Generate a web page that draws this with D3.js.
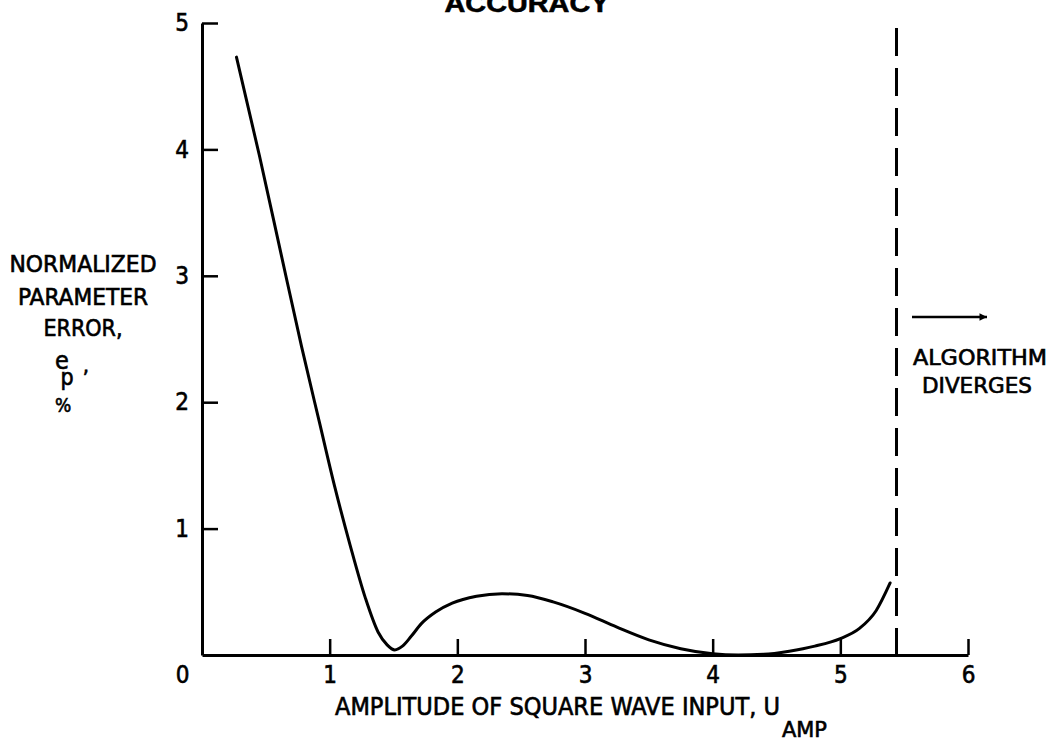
<!DOCTYPE html>
<html>
<head>
<meta charset="utf-8">
<script src="https://cdn.jsdelivr.net/npm/d3@7"></script>
<style>
  html, body { margin: 0; padding: 0; background: #fff; }
  svg { display: block; }
  text { font-family: "DejaVu Sans Condensed", "DejaVu Sans", sans-serif; fill: #000; stroke: #000; stroke-width: 0.6px; }
</style>
</head>
<body>
<svg id="chart" width="1050" height="741"></svg>
<script>
// ---- data ----
const uAmp = [0.27, 0.45, 0.62, 0.78, 0.92, 1.04, 1.16, 1.28, 1.38, 1.45, 1.51, 1.57, 1.64, 1.72, 1.83, 1.96, 2.15, 2.35, 2.55, 2.75, 3.00, 3.25, 3.50, 3.75, 4.00, 4.20, 4.40, 4.60, 4.80, 5.00, 5.15, 5.28, 5.39];
const errP = [4.73, 3.95, 3.17, 2.44, 1.84, 1.33, 0.87, 0.45, 0.18, 0.08, 0.04, 0.07, 0.15, 0.25, 0.34, 0.41, 0.465, 0.485, 0.47, 0.42, 0.33, 0.22, 0.12, 0.05, 0.01, 0.0, 0.005, 0.03, 0.07, 0.13, 0.21, 0.35, 0.57];
const xTicks = [0, 1, 2, 3, 4, 5, 6];
const yTicks = [1, 2, 3, 4, 5];
const divergeAt = [5.44];
const titleText = "ACCURACY";
const xLabel = "AMPLITUDE OF SQUARE WAVE INPUT, U";
const xLabelSub = "AMP";
const yLabelLines = ["NORMALIZED", "PARAMETER", "ERROR,"];
const noteLines = ["ALGORITHM", "DIVERGES"];

// ---- layout ----
const svg = d3.select("#chart");
const x = d3.scaleLinear().domain([0, 6]).range([202, 968]);
const y = d3.scaleLinear().domain([0, 5]).range([655, 23]);

// title (cut off at top)
svg.append("text").attr("x", 527).attr("y", 12)
  .attr("text-anchor", "middle")
  .style("font-family", "'Liberation Sans', Arial, sans-serif")
  .style("font-weight", "bold").style("font-size", "26px")
  .attr("textLength", 165).attr("lengthAdjust", "spacingAndGlyphs")
  .text(titleText);

// axes
const xAxis = d3.axisBottom(x).tickValues(xTicks).tickSizeInner(-16).tickSizeOuter(0).tickPadding(11)
  .tickFormat(d3.format("d"));
const yAxis = d3.axisLeft(y).tickValues(yTicks).tickSizeInner(-16).tickSizeOuter(0).tickPadding(13)
  .tickFormat(d3.format("d"));

const gx = svg.append("g").attr("transform", `translate(0,${y(0)})`).call(xAxis);
const gy = svg.append("g").attr("transform", `translate(${x(0)},0)`).call(yAxis);

[gx, gy].forEach(g => {
  g.select(".domain").attr("stroke", "#000").attr("stroke-width", 3);
  g.selectAll(".tick line").attr("stroke", "#000").attr("stroke-width", 2.5);
  g.selectAll(".tick text").style("font-size", "24px")
    .style("font-family", "'DejaVu Sans Condensed', 'DejaVu Sans', sans-serif").attr("fill", "#000");
});
// origin label sits left of the corner
gx.selectAll(".tick").filter(d => d === 0).select("text").attr("dx", -20);
gx.selectAll(".tick").filter(d => d === 0).select("line").remove();

// curve
const pts = uAmp.map((u, i) => [u, errP[i]]);
svg.append("path").datum(pts)
  .attr("fill", "none").attr("stroke", "#000").attr("stroke-width", 3)
  .attr("stroke-linecap", "round")
  .attr("d", d3.line().x(d => x(d[0])).y(d => y(d[1])).curve(d3.curveMonotoneX));

// divergence dashed line
svg.selectAll("line.div").data(divergeAt).enter().append("line")
  .attr("class", "div")
  .attr("x1", d => x(d)).attr("x2", d => x(d))
  .attr("y1", 28).attr("y2", y(0))
  .attr("stroke", "#000").attr("stroke-width", 3).attr("stroke-dasharray", "28,12");

// arrow
svg.append("defs").append("marker").attr("id", "ah")
  .attr("viewBox", "0 0 10 10").attr("refX", 10).attr("refY", 5)
  .attr("markerWidth", 6).attr("markerHeight", 3).attr("markerUnits", "strokeWidth")
  .attr("orient", "auto")
  .append("path").attr("d", "M0,0 L10,5 L0,10 Z").attr("fill", "#000");
svg.append("line").attr("x1", 912).attr("x2", 987).attr("y1", 317).attr("y2", 317)
  .attr("stroke", "#000").attr("stroke-width", 2.5).attr("marker-end", "url(#ah)");

// note text
svg.append("text").attr("x", 913).attr("y", 365).style("font-size", "21px")
  .attr("textLength", 134).attr("lengthAdjust", "spacingAndGlyphs").text(noteLines[0]);
svg.append("text").attr("x", 922).attr("y", 393).style("font-size", "21px")
  .attr("textLength", 110).attr("lengthAdjust", "spacingAndGlyphs").text(noteLines[1]);

// y label
const yl = [[272, 147], [305, 130], [336, null]];
yLabelLines.forEach((t, i) => {
  const tx = svg.append("text").attr("x", 83).attr("y", yl[i][0]).attr("text-anchor", "middle")
    .style("font-size", "23px").text(t);
  if (yl[i][1]) tx.attr("textLength", yl[i][1]).attr("lengthAdjust", "spacingAndGlyphs");
});
svg.append("text").attr("x", 62).attr("y", 369).attr("text-anchor", "middle").style("font-size", "25px").text("e");
svg.append("text").attr("x", 67).attr("y", 385).attr("text-anchor", "middle").style("font-size", "23px").text("p");
svg.append("text").attr("x", 86).attr("y", 373).attr("text-anchor", "middle").style("font-size", "22px").text(",");
svg.append("text").attr("x", 63).attr("y", 412).attr("text-anchor", "middle").style("font-size", "19px").text("%");

// x label
svg.append("text").attr("x", 335).attr("y", 715).style("font-size", "24px")
  .attr("textLength", 445).attr("lengthAdjust", "spacingAndGlyphs").text(xLabel);
svg.append("text").attr("x", 782).attr("y", 737).style("font-size", "22px")
  .attr("textLength", 45).attr("lengthAdjust", "spacingAndGlyphs").text(xLabelSub);
</script>
</body>
</html>
